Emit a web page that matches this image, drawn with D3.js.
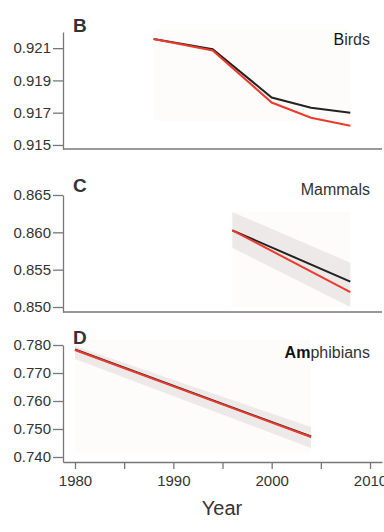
<!DOCTYPE html>
<html>
<head>
<meta charset="utf-8">
<script src="https://cdn.jsdelivr.net/npm/d3@7"></script>
<style>
  body { margin: 0; background: #fff; }
  text { font-family: "Liberation Sans", Arial, sans-serif; fill: #333; }
</style>
</head>
<body>
<script>
// Birds
var birdYears = [1988, 1994, 2000, 2004, 2008];
var birdsBlack = [0.92156, 0.92094, 0.91794, 0.91731, 0.91700];
var birdsRed = [0.92156, 0.92086, 0.91763, 0.91669, 0.91619];
var birdTicks = [0.915, 0.917, 0.919, 0.921];

// Mammals
var mamYears = [1996, 2008];
var mamBlack = [0.86027, 0.85340];
var mamRed = [0.86027, 0.85200];
var mamUpper = [0.86273, 0.85593];
var mamLower = [0.85793, 0.85000];
var mamTicks = [0.850, 0.855, 0.860, 0.865];

// Amphibians
var ampYears = [1980, 2004];
var ampBlack = [0.77840, 0.74730];
var ampRed = [0.77821, 0.74714];
var ampUpper = [0.77964, 0.75070];
var ampLower = [0.77500, 0.74320];
var ampTicks = [0.740, 0.750, 0.760, 0.770, 0.780];

var yearTicks = [1980, 1985, 1990, 1995, 2000, 2005, 2010];

var width = 384, height = 532;
var svg = d3.select("body").append("svg").attr("width", width).attr("height", height);

var x = d3.scaleLinear().domain([1978.78, 2011.22]).range([63, 382]);

function panel(opts) {
  var y = d3.scaleLinear().domain(opts.domain).range(opts.range);
  var g = svg.append("g");

  // faint background of the fitted region
  if (opts.bg) {
    g.append("rect")
      .attr("x", x(opts.bg[0]))
      .attr("y", y(opts.bg[3]))
      .attr("width", x(opts.bg[1]) - x(opts.bg[0]))
      .attr("height", y(opts.bg[2]) - y(opts.bg[3]))
      .attr("fill", "#fefcfb");
  }

  if (opts.upper) {
    var area = d3.area()
      .x(function(d, i) { return x(opts.years[i]); })
      .y0(function(d, i) { return y(opts.lower[i]); })
      .y1(function(d, i) { return y(opts.upper[i]); });
    g.append("path")
      .attr("d", area(opts.years))
      .attr("fill", "#e4e1df")
      .attr("opacity", 0.7);
  }

  var line = d3.line()
    .x(function(d, i) { return x(opts.years[i]); })
    .y(function(d) { return y(d); });

  g.append("path").attr("d", line(opts.black))
    .attr("fill", "none").attr("stroke", "#222").attr("stroke-width", 2);
  g.append("path").attr("d", line(opts.red))
    .attr("fill", "none").attr("stroke", "#ec3a2c").attr("stroke-width", 2);

  var yAxis = d3.axisLeft(y).tickValues(opts.ticks).tickFormat(d3.format(opts.fmt))
    .tickSize(10).tickSizeOuter(0).tickPadding(2);
  var ya = g.append("g").attr("transform", "translate(63,0)").call(yAxis);
  ya.selectAll("path, line").attr("stroke", "#777").attr("stroke-width", 1.3);
  ya.selectAll("text").style("font-size", "15px").attr("fill", "#333");

  var bottom = opts.range[0];
  if (opts.xaxis) {
    var xAxis = d3.axisBottom(x).tickValues(yearTicks)
      .tickFormat(function(d) { return d % 10 === 0 ? d : ""; })
      .tickSize(7).tickSizeOuter(0).tickPadding(6);
    var xa = g.append("g").attr("transform", "translate(0," + bottom + ")").call(xAxis);
    xa.selectAll("path, line").attr("stroke", "#777").attr("stroke-width", 1.3);
    xa.selectAll("text").style("font-size", "15px").attr("fill", "#333");
  } else {
    g.append("line").attr("x1", 63).attr("x2", 382)
      .attr("y1", bottom).attr("y2", bottom)
      .attr("stroke", "#777").attr("stroke-width", 1.3);
  }

  g.append("text").attr("x", 73).attr("y", opts.labelY)
    .style("font-size", "19px").style("font-weight", "bold").attr("fill", "#111")
    .text(opts.letter);

  var t = g.append("text").attr("x", 370).attr("y", opts.nameY)
    .attr("text-anchor", "end").style("font-size", "16px");
  if (opts.boldPart) {
    t.append("tspan").style("font-weight", opts.boldWeight).attr("fill", "#111").text(opts.boldPart);
  }
  t.append("tspan").text(opts.name);
}

panel({
  domain: [0.91475, 0.922], range: [149, 32], ticks: birdTicks, fmt: ".3f",
  years: birdYears, black: birdsBlack, red: birdsRed,
  bg: [1988, 2008, 0.9165, 0.9222],
  letter: "B", labelY: 32, name: "irds", boldPart: "B", boldWeight: "normal", nameY: 45
});

panel({
  domain: [0.84933, 0.865], range: [312, 195], ticks: mamTicks, fmt: ".3f",
  years: mamYears, black: mamBlack, red: mamRed, upper: mamUpper, lower: mamLower,
  bg: [1996, 2008, 0.8500, 0.86273],
  letter: "C", labelY: 192, name: "Mammals", nameY: 195
});

panel({
  domain: [0.73821, 0.780], range: [462, 345], ticks: ampTicks, fmt: ".3f",
  years: ampYears, black: ampBlack, red: ampRed, upper: ampUpper, lower: ampLower,
  bg: [1980, 2004, 0.7415, 0.7818],
  letter: "D", labelY: 344, name: "phibians", boldPart: "Am", boldWeight: "bold", nameY: 358,
  xaxis: true
});

svg.append("text").attr("x", 222).attr("y", 515).attr("text-anchor", "middle")
  .style("font-size", "20px").text("Year");
</script>
</body>
</html>
